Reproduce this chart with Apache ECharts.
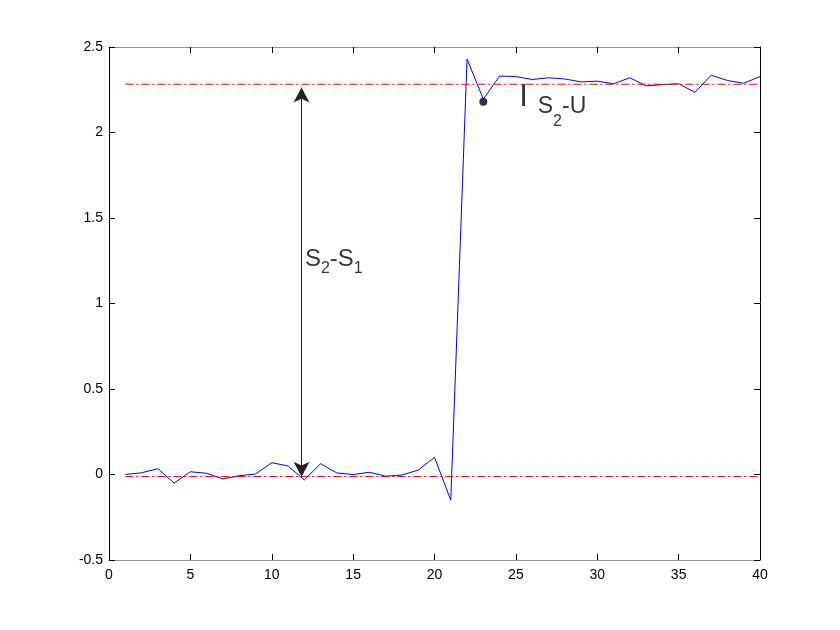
<!DOCTYPE html>
<html>
<head>
<meta charset="utf-8">
<script src="https://cdn.jsdelivr.net/npm/echarts@6/dist/echarts.min.js"></script>
<style>html,body{margin:0;padding:0;background:#fff;}#c{width:840px;height:630px;}</style>
</head>
<body>
<div id="c"></div>
<script>
// ---- data ----
var xValues = [1,2,3,4,5,6,7,8,9,10,11,12,13,14,15,16,17,18,19,20,21,22,23,24,25,26,27,28,29,30,31,32,33,34,35,36,37,38,39,40];
var yValues = [0.0, 0.01, 0.034, -0.05, 0.016, 0.007, -0.026, -0.007, 0.003, 0.069,
               0.05, -0.032, 0.063, 0.009, 0.0, 0.013, -0.01, -0.003, 0.026, 0.1,
               -0.15, 2.43, 2.195, 2.33, 2.327, 2.31, 2.32, 2.313, 2.296, 2.30,
               2.285, 2.32, 2.273, 2.28, 2.285, 2.235, 2.335, 2.304, 2.288, 2.327];
var refUpper = 2.282;       // S2 level
var refLower = -0.012;      // S1 level
var refStartX = 1, refEndX = 40;
var arrowX = 11.83;
var arrowTop = 2.263, arrowBottom = -0.013;
var markerPoint = [23, 2.18];
var labelS2S1Pos = [12.04, 1.227];
var labelIPos = [25.2, 2.30];
var xTicks = [0, 40, 5];     // min, max, step
var yTicks = [-0.5, 2.5, 0.5];

var lineData = xValues.map(function (x, i) { return [x, yValues[i]]; });

var chart = echarts.init(document.getElementById('c'), null, {renderer: 'canvas'});
var font = 'Liberation Sans, Arial, Helvetica, sans-serif';
var axisCommon = function (extra) {
  return Object.assign({
    type: 'value',
    splitLine: {show: false},
    axisTick: {show: true, inside: true, length: 6, lineStyle: {color: '#000', width: 1}},
    axisLabel: {show: false},
    axisLine: {show: true, onZero: false, lineStyle: {color: '#000', width: 1}}
  }, extra);
};

chart.setOption({
  animation: false,
  backgroundColor: '#fff',
  grid: {left: 109, right: 80, top: 47, bottom: 70, containLabel: false},
  xAxis: [
    axisCommon({position: 'bottom', min: xTicks[0], max: xTicks[1], interval: xTicks[2],
      axisLine: {show: true, onZero: false, lineStyle: {color: '#999', width: 1}},
      axisLabel: {show: true, margin: 8, color: '#000', fontSize: 14, fontFamily: font}}),
    axisCommon({position: 'top', min: xTicks[0], max: xTicks[1], interval: xTicks[2],
      axisLine: {show: true, onZero: false, lineStyle: {color: '#999', width: 1}}})
  ],
  yAxis: [
    axisCommon({position: 'left', min: yTicks[0], max: yTicks[1], interval: yTicks[2],
      axisLabel: {show: true, margin: 6, color: '#000', fontSize: 14, fontFamily: font}}),
    axisCommon({position: 'right', min: yTicks[0], max: yTicks[1], interval: yTicks[2]})
  ],
  series: [
    {
      type: 'line', data: lineData, symbol: 'none', silent: true,
      lineStyle: {color: '#0000ff', width: 1},
      markLine: {
        silent: true, symbol: ['arrow', 'arrow'], symbolSize: [12, 15],
        label: {show: false},
        lineStyle: {color: '#222', width: 1, type: 'solid'},
        data: [[{coord: [arrowX, arrowTop]}, {coord: [arrowX, arrowBottom]}]]
      }
    },
    {
      type: 'line', data: [[refStartX, refUpper], [refEndX, refUpper]], symbol: 'none', silent: true,
      lineStyle: {color: '#ff0000', width: 1, type: [8, 3, 2, 3]}
    },
    {
      type: 'line', data: [[refStartX, refLower], [refEndX, refLower]], symbol: 'none', silent: true,
      lineStyle: {color: '#ff0000', width: 1, type: [8, 3, 2, 3]}
    },
    {
      type: 'scatter', data: [markerPoint], symbol: 'circle', symbolSize: 8, silent: true,
      itemStyle: {color: '#000'}
    },
    {
      type: 'scatter', data: [labelS2S1Pos], symbolSize: 0, silent: true,
      label: {
        show: true, position: [0, 0], align: 'left', verticalAlign: 'middle',
        formatter: '{s|S}{sub|2}{s|-S}{sub|1}',
        rich: {
          s: {fontSize: 24, fontFamily: font, color: '#000', lineHeight: 34, verticalAlign: 'top', padding: [0, 0, 0, 0]},
          sub: {fontSize: 16, fontFamily: font, color: '#000', lineHeight: 34, verticalAlign: 'top', padding: [13, 0, 0, 0]}
        }
      }
    },
    {
      type: 'scatter', data: [labelIPos], symbolSize: 0, silent: true,
      label: {
        show: true, position: [0, 0], align: 'left', verticalAlign: 'top',
        formatter: '{big|I}{gap| }{s|S}{sub|2}{s|-U}',
        rich: {
          big: {fontSize: 31, fontFamily: font, color: '#000', lineHeight: 34, verticalAlign: 'top', padding: [1, 0, 0, 0]},
          gap: {fontSize: 22, fontFamily: font, color: '#000', lineHeight: 34, verticalAlign: 'top', width: 10},
          s: {fontSize: 23, fontFamily: font, color: '#000', lineHeight: 34, verticalAlign: 'top', padding: [14, 0, 0, 0]},
          sub: {fontSize: 16, fontFamily: font, color: '#000', lineHeight: 34, verticalAlign: 'top', padding: [32, 0, 0, 0]}
        }
      }
    }
  ]
});
</script>
</body>
</html>
